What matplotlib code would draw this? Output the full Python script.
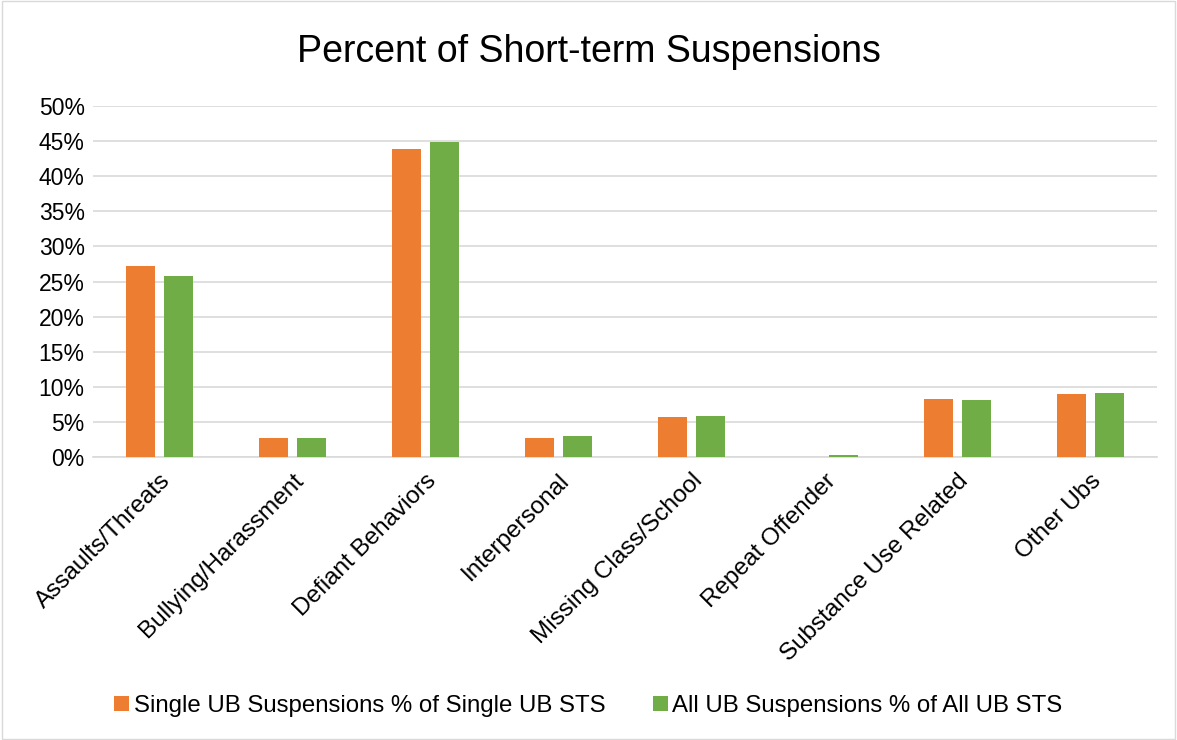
import matplotlib.pyplot as plt
import numpy as np
from matplotlib.ticker import PercentFormatter
from matplotlib.patches import Rectangle

plt.rcParams['font.family'] = ['Liberation Sans', 'DejaVu Sans']

categories = ['Assaults/Threats', 'Bullying/Harassment', 'Defiant Behaviors', 'Interpersonal',
              'Missing Class/School', 'Repeat Offender', 'Substance Use Related', 'Other Ubs']
single_ub = [27.2, 2.8, 43.8, 2.8, 5.8, 0.1, 8.3, 9.0]
all_ub = [25.8, 2.8, 44.8, 3.1, 5.9, 0.3, 8.2, 9.1]
series_names = ['Single UB Suspensions % of Single UB STS', 'All UB Suspensions % of All UB STS']
colors = ['#ED7D31', '#70AD47']

fig = plt.figure(figsize=(11.77, 7.4), dpi=100)
ax = fig.add_axes([0.079, 0.382, 0.904, 0.475])

x = np.arange(len(categories))
w = 0.225
off = 0.143
ax.bar(x - off, single_ub, w, color=colors[0], label=series_names[0], zorder=3)
ax.bar(x + off, all_ub, w, color=colors[1], label=series_names[1], zorder=3)

ax.set_xlim(-0.5, len(categories) - 0.5)
ax.set_ylim(0, 50)
ax.set_yticks(np.arange(0, 51, 5))
ax.yaxis.set_major_formatter(PercentFormatter(decimals=0))
ax.grid(axis='y', color='#D9D9D9', linewidth=1.2, zorder=0)
for s in ['top', 'right', 'left']:
    ax.spines[s].set_visible(False)
ax.spines['bottom'].set_color('#D9D9D9')
ax.spines['bottom'].set_linewidth(1.2)
ax.tick_params(axis='both', length=0, labelsize=16.5, colors='#000000')
ax.tick_params(axis='x', labelsize=17.5, pad=9)
ax.tick_params(axis='y', pad=6)
ax.set_xticks(x)
ax.set_xticklabels(categories, rotation=45, ha='right', rotation_mode='anchor')

fig.text(0.5, 0.93, 'Percent of Short-term Suspensions', ha='center', va='center', fontsize=27)

fig.legend(loc='center', bbox_to_anchor=(0.5, 0.046), ncol=2, frameon=False, fontsize=17.3,
           handlelength=0.6, handleheight=0.6, handletextpad=0.2, columnspacing=2)

fig.patches.append(Rectangle((0.002, 0.002), 0.996, 0.996, transform=fig.transFigure,
                             fill=False, edgecolor='#D9D9D9', linewidth=1))

fig.savefig('out.png', dpi=100)
